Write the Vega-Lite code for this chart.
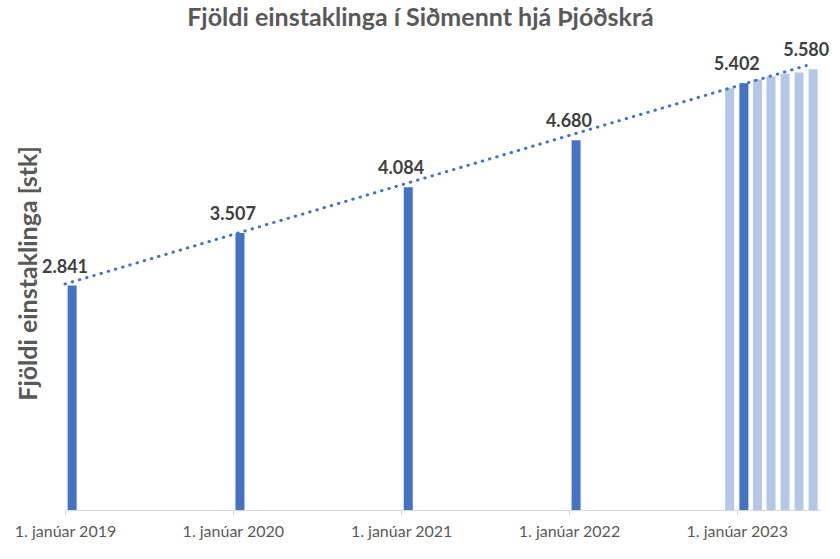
{
  "$schema": "https://vega.github.io/schema/vega-lite/v6.json",
  "width": 755,
  "height": 474,
  "autosize": {"type": "none"},
  "padding": {"left": 65, "top": 36, "right": 20, "bottom": 49},
  "background": "white",
  "config": {
    "view": {"stroke": null},
    "font": "Lato",
    "locale": {"number": {"decimal": ",", "thousands": ".", "grouping": [3], "currency": ["", " kr."]}}
  },
  "title": {
    "text": "Fjöldi einstaklinga í Siðmennt hjá Þjóðskrá",
    "fontSize": 25,
    "fontWeight": "bold",
    "color": "#595959",
    "anchor": "middle",
    "frame": "group",
    "dx": -22,
    "offset": 5
  },
  "datasets": {
    "fjoldi": [
      {"dagsetning": "2019/01/01", "fjoldi": 2841, "tegund": "1. janúar"},
      {"dagsetning": "2020/01/01", "fjoldi": 3507, "tegund": "1. janúar"},
      {"dagsetning": "2021/01/01", "fjoldi": 4084, "tegund": "1. janúar"},
      {"dagsetning": "2022/01/01", "fjoldi": 4680, "tegund": "1. janúar"},
      {"dagsetning": "2022/12/01", "fjoldi": 5338, "tegund": "mánuður"},
      {"dagsetning": "2023/01/01", "fjoldi": 5402, "tegund": "1. janúar"},
      {"dagsetning": "2023/02/01", "fjoldi": 5450, "tegund": "mánuður"},
      {"dagsetning": "2023/03/01", "fjoldi": 5486, "tegund": "mánuður"},
      {"dagsetning": "2023/04/01", "fjoldi": 5522, "tegund": "mánuður"},
      {"dagsetning": "2023/05/01", "fjoldi": 5537, "tegund": "mánuður"},
      {"dagsetning": "2023/06/01", "fjoldi": 5580, "tegund": "mánuður"}
    ],
    "leitni": [
      {"dagsetning": "2019/01/01", "fjoldi": 2860},
      {"dagsetning": "2023/06/01", "fjoldi": 5625}
    ]
  },
  "encoding": {
    "x": {
      "field": "dagsetning",
      "type": "temporal",
      "timeUnit": "yearmonth",
      "scale": {"domain": [{"year": 2019, "month": 1, "date": 1}, {"year": 2023, "month": 7, "date": 1}]},
      "axis": {
        "title": null,
        "values": [
          {"year": 2019, "month": 1, "date": 1},
          {"year": 2020, "month": 1, "date": 1},
          {"year": 2021, "month": 1, "date": 1},
          {"year": 2022, "month": 1, "date": 1},
          {"year": 2023, "month": 1, "date": 1}
        ],
        "labelExpr": "'1. janúar ' + timeFormat(datum.value, '%Y')",
        "labelFontSize": 16,
        "labelColor": "#595959",
        "labelPadding": 8,
        "labelFlush": false,
        "labelOverlap": false,
        "tickSize": 5,
        "tickColor": "#d9d9d9",
        "domainColor": "#d9d9d9",
        "grid": false
      }
    },
    "y": {
      "field": "fjoldi",
      "type": "quantitative",
      "scale": {"domain": [0, 6000]},
      "axis": {
        "title": "Fjöldi einstaklinga [stk]",
        "titleFontSize": 25,
        "titleFontWeight": "bold",
        "titleColor": "#595959",
        "titlePadding": 24,
        "labels": false,
        "ticks": false,
        "domain": false,
        "grid": false
      }
    }
  },
  "layer": [
    {
      "data": {"name": "fjoldi"},
      "mark": {"type": "bar", "width": 9, "timeUnitBandPosition": 0.5},
      "encoding": {
        "color": {
          "field": "tegund",
          "type": "nominal",
          "scale": {"domain": ["1. janúar", "mánuður"], "range": ["#4472C4", "#B4C7E7"]},
          "legend": null
        }
      }
    },
    {
      "data": {"name": "leitni"},
      "mark": {"type": "line", "color": "#4472C4", "strokeWidth": 3, "strokeDash": [0.5, 7], "strokeCap": "round", "timeUnitBandPosition": 0.5},
      "encoding": {}
    },
    {
      "data": {"name": "fjoldi"},
      "transform": [{"filter": "datum.tegund == '1. janúar' || datum.fjoldi == 5580"}],
      "mark": {"type": "text", "fontSize": 18, "fontWeight": "bold", "color": "#404040", "dy": -18, "timeUnitBandPosition": 0.5},
      "encoding": {
        "text": {"field": "fjoldi", "type": "quantitative", "format": ",d"}
      }
    }
  ]
}
